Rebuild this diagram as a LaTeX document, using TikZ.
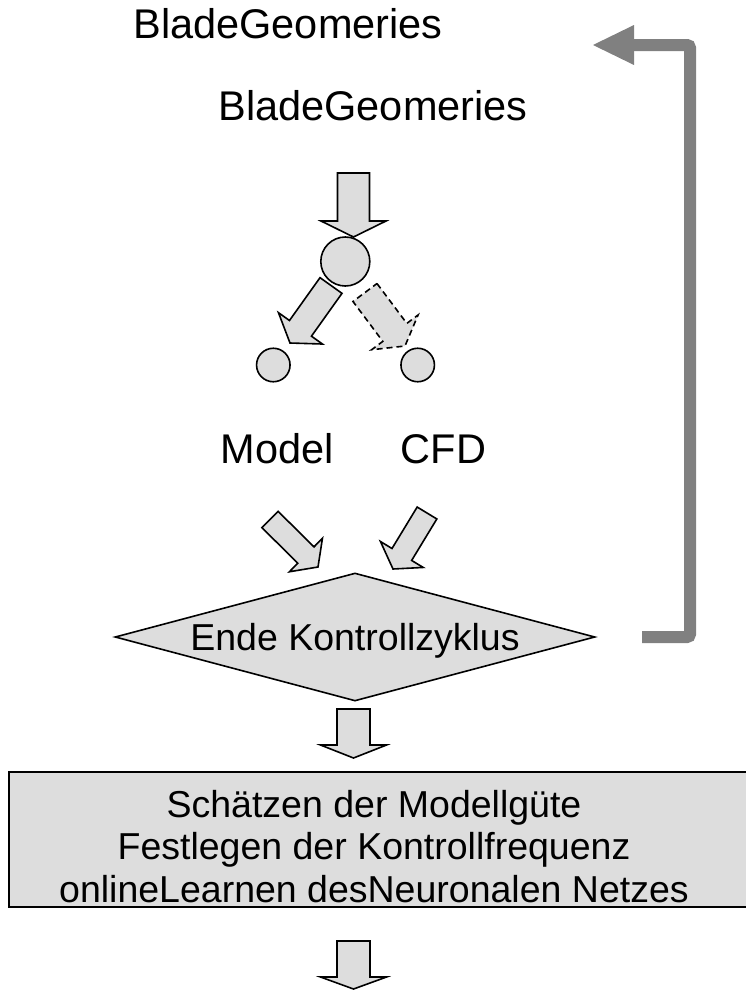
\documentclass[tikz,border=0pt]{standalone}
\usepackage{fontspec}
\setmainfont{Liberation Sans}
\usetikzlibrary{calc,shapes.geometric}
\definecolor{fillg}{RGB}{221,221,221}
\definecolor{fbgray}{RGB}{128,128,128}
\tikzset{
  barrow/.style={draw=black,fill=fillg,line width=1.6pt,line join=miter},
  bubble/.style={circle,draw=black,fill=fillg,line width=1.6pt,inner sep=0pt},
  lbl/.style={anchor=base,inner sep=0pt,font=\fontsize{41.5}{48}\selectfont},
  boxtxt/.style={anchor=base,inner sep=0pt,font=\fontsize{37.5}{44}\selectfont},
}
% #2 tail, #3 tip, #4 half shaft width, #5 half head width, #6 head length
\newcommand{\blockarr}[6][]{%
  \path (#2) coordinate (bT) (#3) coordinate (bP) ($(#3)!#6!(#2)$) coordinate (bH);
  \draw[barrow,#1] ($(bT)!#4!90:(bP)$) -- ($(bH)!#4!90:(bP)$) -- ($(bH)!#5!90:(bP)$)
    -- (bP) -- ($(bH)!#5!-90:(bP)$) -- ($(bH)!#4!-90:(bP)$) -- ($(bT)!#4!-90:(bP)$) -- cycle;
}
\begin{document}
\begin{tikzpicture}[x=1pt,y=-1pt]
\useasboundingbox (0,0) rectangle (745,991);
\fill[white] (0,0) rectangle (745,991);

% texts
\node[lbl] (geo1) at (288,38) {BladeGeomeries};
\node[lbl] (geo2) at (373,120) {BladeGeomeries};
\node[lbl] (model) at (277.5,463) {Model};
\node[lbl] (cfd) at (443.5,463) {CFD};

% circles
\node[bubble,minimum size=49pt] (c0) at (345.3,261.5) {};
\node[bubble,minimum size=33.5pt] (c1) at (273.3,365) {};
\node[bubble,minimum size=33.5pt] (c2) at (417.7,365) {};

% decision
\node[diamond,draw=black,fill=fillg,line width=1.6pt,inner sep=0pt,aspect=3.75,
      minimum width=480pt,minimum height=128pt] (dec) at (355,637) {};
\node[anchor=base,inner sep=0pt,font=\fontsize{37.5}{44}\selectfont] (declbl) at (355,650) {Ende Kontrollzyklus};

% box
\node[draw=black,fill=fillg,line width=1.6pt,rectangle,inner sep=0pt,
      minimum width=752pt,minimum height=135pt,anchor=north west] (box) at (8,771) {};
\node[boxtxt] (l1) at (374,817) {Schätzen der Modellgüte};
\node[boxtxt] (l2) at (374,859.5) {Festlegen der Kontrollfrequenz};
\node[boxtxt] (l3) at (374,902) {onlineLearnen desNeuronalen Netzes};

% block arrow end points
\coordinate (a1s) at (353.5,173);  \coordinate (a1e) at (353.5,237);
\coordinate (a2s) at (331,285.5);  \coordinate (a2e) at (290,343);
\coordinate (a3s) at (365,292.5);  \coordinate (a3e) at (405,346);
\coordinate (a4s) at (270,519.5);  \coordinate (a4e) at (318,567);
\coordinate (a5s) at (427,513);    \coordinate (a5e) at (393,569);
\coordinate (a6s) at (353.5,709);  \coordinate (a6e) at (353.5,758);
\coordinate (a7s) at (353.5,941);  \coordinate (a7e) at (353.5,989);

\blockarr{a1s}{a1e}{16pt}{32.5pt}{16pt}
\blockarr{a2s}{a2e}{13.5pt}{27pt}{18pt}
\blockarr[dash pattern=on 6pt off 4pt]{a3s}{a3e}{15pt}{29pt}{17pt}
\blockarr{a4s}{a4e}{11.5pt}{23.5pt}{17pt}
\blockarr{a5s}{a5e}{11.5pt}{25pt}{17pt}
\blockarr{a6s}{a6e}{16.5pt}{33pt}{13pt}
\blockarr{a7s}{a7e}{16.5pt}{33pt}{12pt}

% feedback arrow
\coordinate (fbstart) at (642,637);
\coordinate (fbc1) at (690,637);
\coordinate (fbc2) at (690,45);
\coordinate (fbhead) at (634,45);
\coordinate (fbtip) at (593,45);
\draw[fbgray,line width=12pt,rounded corners=3pt,line join=miter] (fbstart) -- (fbc1) -- (fbc2) -- (fbhead);
\fill[fbgray] ($(fbhead)+(0,-20)$) -- (fbtip) -- ($(fbhead)+(0,20)$) -- cycle;
\end{tikzpicture}
\end{document}
